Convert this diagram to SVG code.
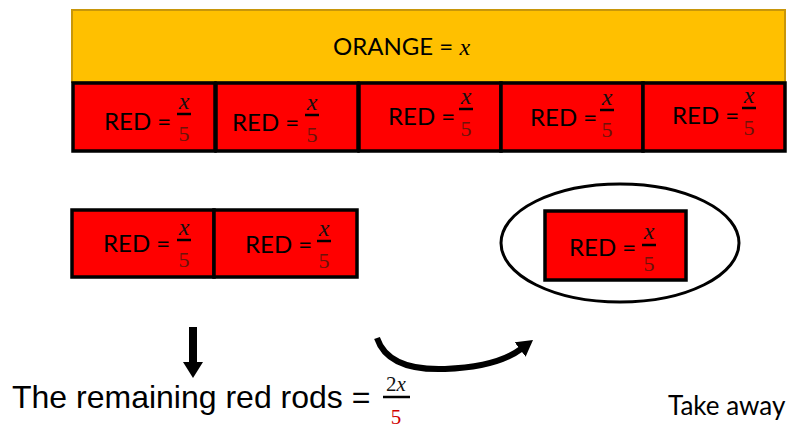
<svg xmlns="http://www.w3.org/2000/svg" width="793" height="428" viewBox="0 0 793 428">
  <style>
    .rod { fill: #ff0000; stroke: #000; stroke-width: 3.5; }
    .lbl { font-family: Lato, "Open Sans", sans-serif; font-size: 24px; fill: #000; }
    .num { font-family: "Liberation Serif", serif; font-style: italic; font-size: 24px; fill: #111; text-anchor: middle; }
    .den { font-family: "Liberation Serif", serif; font-size: 22px; fill: #6a140a; text-anchor: middle; }
    .bar { stroke: #000; stroke-width: 2.5; }
  </style>
  <defs>
    <marker id="head-down" markerWidth="16" markerHeight="20" refX="0" refY="10" orient="auto" markerUnits="userSpaceOnUse">
      <path d="M0,0 L16,10 L0,20 Z" fill="#000"/>
    </marker>
    <marker id="head-curve" markerWidth="16" markerHeight="18" refX="1" refY="9" orient="auto" markerUnits="userSpaceOnUse">
      <path d="M0,0 L16,9 L0,18 Z" fill="#000"/>
    </marker>
  </defs>
  <rect width="793" height="428" fill="#fff"/>

  <!-- whole rod -->
  <g id="orange">
    <rect x="72" y="10" width="713" height="72" fill="#ffc000" stroke="#c8960a" stroke-width="2"/>
    <text x="333" y="55" class="lbl">ORANGE = <tspan font-family="Liberation Serif, serif" font-style="italic">x</tspan></text>
  </g>

  <!-- five fifths -->
  <g id="red1">
    <rect x="73" y="83" width="142" height="68" class="rod"/>
    <text x="104" y="130" class="lbl">RED =</text>
    <text x="184" y="109" class="num">x</text><line x1="177" y1="114" x2="191" y2="114" class="bar"/><text x="184" y="141" class="den">5</text>
  </g>
  <g id="red2">
    <rect x="216" y="83" width="142" height="68" class="rod"/>
    <text x="232" y="131" class="lbl">RED =</text>
    <text x="312" y="110" class="num">x</text><line x1="305" y1="115" x2="319" y2="115" class="bar"/><text x="312" y="142" class="den">5</text>
  </g>
  <g id="red3">
    <rect x="359" y="83" width="142" height="68" class="rod"/>
    <text x="388" y="125" class="lbl">RED =</text>
    <text x="466" y="104" class="num">x</text><line x1="459" y1="109" x2="473" y2="109" class="bar"/><text x="466" y="136" class="den">5</text>
  </g>
  <g id="red4">
    <rect x="501" y="83" width="142" height="68" class="rod"/>
    <text x="530" y="126" class="lbl">RED =</text>
    <text x="607" y="105" class="num">x</text><line x1="600" y1="110" x2="614" y2="110" class="bar"/><text x="607" y="137" class="den">5</text>
  </g>
  <g id="red5">
    <rect x="643" y="83" width="142" height="68" class="rod"/>
    <text x="672" y="124" class="lbl">RED =</text>
    <text x="749" y="103" class="num">x</text><line x1="742" y1="108" x2="756" y2="108" class="bar"/><text x="749" y="135" class="den">5</text>
  </g>

  <!-- remaining two fifths -->
  <g id="rem1">
    <rect x="72" y="210" width="142" height="67" class="rod"/>
    <text x="103" y="252" class="lbl">RED =</text>
    <text x="184" y="235" class="num">x</text><line x1="177" y1="240" x2="191" y2="240" class="bar"/><text x="184" y="267" class="den">5</text>
  </g>
  <g id="rem2">
    <rect x="214" y="210" width="143" height="67" class="rod"/>
    <text x="245" y="253" class="lbl">RED =</text>
    <text x="324" y="236" class="num">x</text><line x1="317" y1="241" x2="331" y2="241" class="bar"/><text x="324" y="268" class="den">5</text>
  </g>

  <!-- the fifth taken away -->
  <g id="taken">
    <ellipse cx="620" cy="243" rx="119" ry="59" fill="none" stroke="#000" stroke-width="3"/>
    <rect x="545" y="211" width="141" height="69" class="rod"/>
    <text x="569" y="256" class="lbl">RED =</text>
    <text x="649" y="239" class="num">x</text><line x1="642" y1="245" x2="656" y2="245" class="bar"/><text x="649" y="271" class="den">5</text>
  </g>

  <!-- connectors -->
  <g id="connectors">
    <line x1="193" y1="327" x2="193" y2="362" stroke="#000" stroke-width="8" marker-end="url(#head-down)"/>
    <path d="M377,338 Q388,371 445,369 Q497,367 521,349" fill="none" stroke="#000" stroke-width="6" marker-end="url(#head-curve)"/>
  </g>

  <g id="result">
    <text x="12" y="408" font-family="Liberation Sans, Arial, sans-serif" font-size="32" fill="#000">The remaining red rods =</text>
    <text x="396" y="391" font-family="Liberation Serif, serif" font-size="21" fill="#111" text-anchor="middle">2<tspan font-style="italic">x</tspan></text>
    <line x1="383" y1="397" x2="410" y2="397" stroke="#000" stroke-width="2.5"/>
    <text x="396" y="424" font-family="Liberation Serif, serif" font-size="21" fill="#d00000" text-anchor="middle">5</text>
  </g>

  <text id="take-away" x="668" y="415" font-family="Lato, 'Open Sans', sans-serif" font-size="26" fill="#000">Take away</text>
</svg>
